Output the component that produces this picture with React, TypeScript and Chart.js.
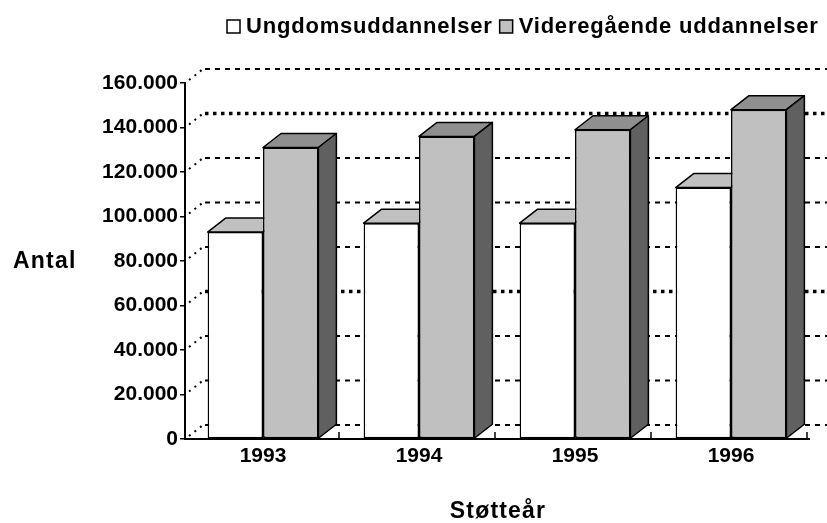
import React, { useEffect, useRef } from 'react';
import { Chart, registerables } from 'chart.js';

Chart.register(...registerables);

// ---- data ----
const years = ['1993', '1994', '1995', '1996'];
const ungdomsuddannelser = [93000, 97000, 97000, 113000];
const videregaaende = [131000, 136000, 139000, 148000];
const seriesNames = ['Ungdomsuddannelser', 'Videregående uddannelser'];
const yTickValues = [0, 20000, 40000, 60000, 80000, 100000, 120000, 140000, 160000];
const boldGridValues = [140000, 60000];
const yTitle = 'Antal';
const xTitle = 'Støtteår';

// ---- styles ----
const frontColors = ['#ffffff', '#c0c0c0'];
const topColors = ['#c0c0c0', '#8f8f8f'];
const sideColors = ['#c0c0c0', '#606060'];
const DX = 18;
const DY = -14;
const FONT = '"Liberation Sans", Arial, Helvetica, sans-serif';

const fmt = (v: number) => String(v).replace(/\B(?=(\d{3})+(?!\d))/g, '.');

const threeD = {
  id: 'threeD',
  beforeDatasetsDraw(chart: any) {
    const ctx = chart.ctx;
    const { left, right, bottom } = chart.chartArea;
    const ys = chart.scales.y;
    ctx.save();
    ctx.strokeStyle = '#000';
    for (const v of yTickValues) {
      const py = ys.getPixelForValue(v);
      const bold = boldGridValues.includes(v);
      ctx.beginPath();
      ctx.lineWidth = bold ? 3.5 : 2;
      ctx.setLineDash(bold ? [3.5, 4.5] : [5, 5]);
      ctx.moveTo(left + DX + 2, py + DY);
      ctx.lineTo(right + DX, py + DY);
      ctx.stroke();
      // side wall diagonal
      ctx.beginPath();
      ctx.lineWidth = 2;
      ctx.setLineDash([2, 5]);
      ctx.moveTo(left + 4, py - 3);
      ctx.lineTo(left + DX, py + DY);
      ctx.stroke();
    }
    // category tick marks on the floor
    ctx.setLineDash([]);
    ctx.lineWidth = 1.5;
    const n = years.length;
    for (let i = 1; i <= n; i++) {
      const bx = left + ((right - left) * i) / n - 2;
      ctx.beginPath();
      ctx.moveTo(bx, bottom);
      ctx.lineTo(bx, bottom - 7);
      ctx.stroke();
    }
    ctx.restore();
  },
  afterDatasetsDraw(chart: any) {
    const ctx = chart.ctx;
    const metas = [chart.getDatasetMeta(0), chart.getDatasetMeta(1)];
    const drawParts = (el: any, k: number) => {
      const { x, y, base, width } = el.getProps(['x', 'y', 'base', 'width'], true);
      const l = x - width / 2;
      const r = x + width / 2;
      ctx.save();
      ctx.setLineDash([]);
      ctx.lineWidth = 1.5;
      ctx.strokeStyle = '#000';
      ctx.lineJoin = 'round';
      // top
      ctx.beginPath();
      ctx.moveTo(l, y);
      ctx.lineTo(r, y);
      ctx.lineTo(r + DX, y + DY);
      ctx.lineTo(l + DX, y + DY);
      ctx.closePath();
      ctx.fillStyle = topColors[k];
      ctx.fill();
      ctx.stroke();
      // side
      ctx.beginPath();
      ctx.moveTo(r, y);
      ctx.lineTo(r + DX, y + DY);
      ctx.lineTo(r + DX, base + DY);
      ctx.lineTo(r, base);
      ctx.closePath();
      ctx.fillStyle = sideColors[k];
      ctx.fill();
      ctx.stroke();
      ctx.restore();
    };
    for (let j = 0; j < years.length; j++) {
      drawParts(metas[0].data[j], 0);
      metas[1].data[j].draw(ctx);
      drawParts(metas[1].data[j], 1);
    }
  },
  afterDraw(chart: any) {
    const ctx = chart.ctx;
    const { left, right } = chart.chartArea;
    ctx.save();
    ctx.fillStyle = '#000';
    ctx.textBaseline = 'alphabetic';
    // legend
    ctx.font = `bold 22px ${FONT}`;
    (ctx as any).letterSpacing = '0.8px';
    let lx = 227;
    const baseY = 33;
    seriesNames.forEach((name, k) => {
      ctx.fillStyle = frontColors[k];
      ctx.fillRect(lx, 20, 13, 13);
      ctx.strokeStyle = '#000';
      ctx.lineWidth = 1.5;
      ctx.strokeRect(lx, 20, 13, 13);
      ctx.fillStyle = '#000';
      ctx.textAlign = 'left';
      ctx.fillText(name, lx + 19, baseY);
      lx += 19 + ctx.measureText(name).width + 7;
    });
    // axis titles
    ctx.font = `bold 23px ${FONT}`;
    (ctx as any).letterSpacing = '1.2px';
    ctx.textAlign = 'left';
    ctx.fillText(yTitle, 13, 268);
    ctx.textAlign = 'center';
    ctx.fillText(xTitle, (left + right) / 2 + 1, 518);
    (ctx as any).letterSpacing = '0px';
    ctx.restore();
  },
};

export default function App() {
  const ref = useRef<HTMLCanvasElement>(null);
  useEffect(() => {
    const chart = new Chart(ref.current as HTMLCanvasElement, {
      type: 'bar',
      data: {
        labels: years,
        datasets: [
          {
            label: seriesNames[0],
            data: ungdomsuddannelser,
            backgroundColor: frontColors[0],
            borderColor: '#000',
            borderWidth: 1.5,
            borderSkipped: false,
          },
          {
            label: seriesNames[1],
            data: videregaaende,
            backgroundColor: frontColors[1],
            borderColor: '#000',
            borderWidth: 1.5,
            borderSkipped: false,
          },
        ],
      },
      options: {
        responsive: false,
        animation: false,
        events: [],
        datasets: { bar: { categoryPercentage: 0.71, barPercentage: 1 } },
        layout: { padding: { left: 0, right: 18, top: 83, bottom: 0 } },
        plugins: { legend: { display: false }, tooltip: { enabled: false }, title: { display: false } },
        scales: {
          x: {
            afterFit: (s: any) => { s.height = 84; },
            grid: { display: true, drawOnChartArea: false, drawTicks: false, color: 'rgba(0,0,0,0)' },
            border: { display: true, color: '#000', width: 2 },
            ticks: { color: '#000', padding: 5, font: { family: FONT, size: 21, weight: 'bold' } },
          },
          y: {
            min: 0,
            max: 160000,
            afterFit: (s: any) => { s.width = 185; },
            grid: { display: true, drawOnChartArea: false, drawTicks: true, tickLength: 5, color: '#000', lineWidth: 1.5 },
            border: { display: true, color: '#000', width: 2 },
            ticks: {
              stepSize: 20000,
              color: '#000',
              padding: 2,
              font: { family: FONT, size: 21, weight: 'bold' },
              callback: (v: any) => fmt(Number(v)),
            },
          },
        },
      },
      plugins: [threeD],
    } as any);
    return () => chart.destroy();
  }, []);
  return (
    <div style={{ position: 'absolute', left: 0, top: 0, width: 827, height: 523, background: '#fff' }}>
      <canvas ref={ref} width={827} height={523} style={{ display: 'block' }} />
    </div>
  );
}
